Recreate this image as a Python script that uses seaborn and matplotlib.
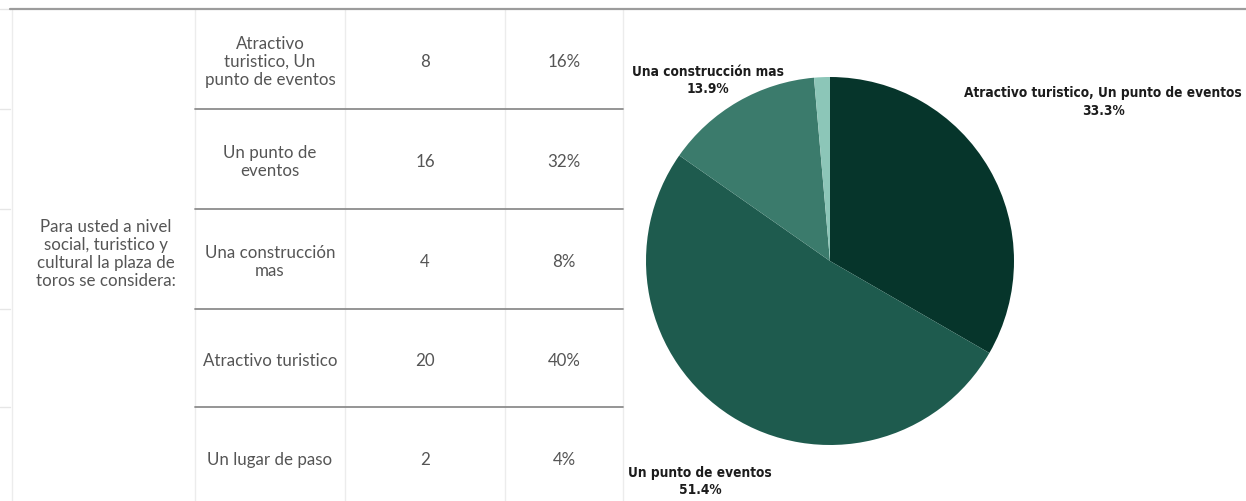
import numpy as np
import matplotlib
matplotlib.use("Agg")
import matplotlib.pyplot as plt
import seaborn as sns

# ---------------- data ----------------
question = "Para usted a nivel\nsocial, turistico y\ncultural la plaza de\ntoros se considera:"
categories = ["Atractivo\nturistico, Un\npunto de eventos",
              "Un punto de\neventos",
              "Una construcción\nmas",
              "Atractivo turistico",
              "Un lugar de paso"]
counts = [8, 16, 4, 20, 2]
percents = ["16%", "32%", "8%", "40%", "4%"]

pie_labels = ["Atractivo turistico, Un punto de eventos",
              "Un punto de eventos",
              "Una construcción mas",
              "Un lugar de paso"]
pie_values = [24, 37, 10, 1]

# ---------------- style ----------------
sns.set_theme(style="white")
plt.rcParams['font.family'] = ['Lato', 'DejaVu Sans']
pie_colors = sns.color_palette(["#06352b", "#1e5b4e", "#3b7b6c", "#8cc6b8"])
# label offsets (pixels) from the wedge's outer mid point; None = no label
label_offsets = [(114, -68), (-31, 64), (-30, -22), None]

W, H = 1246, 502
fig = plt.figure(figsize=(W / 100, H / 100), dpi=100)
fig.patch.set_facecolor("white")

# table axes in pixel coordinates
tax = fig.add_axes([0, 0, 1, 1])
tax.set_xlim(0, W)
tax.set_ylim(H, 0)
tax.axis("off")

row_tops = [10, 110, 210, 310, 408, 508]
col_x = [12, 195, 345, 505, 623]

for x in col_x:
    tax.plot([x, x], [10, H], color="#ececec", lw=1.0, zorder=1)
for y in [10, 110, 210, 310, 408]:
    tax.plot([0, 10], [y, y], color="#e6e6e6", lw=1.0, zorder=1)
tax.plot([10, W], [10, 10], color="#9c9c9c", lw=1.6, zorder=2)
for y in row_tops[1:5]:
    tax.plot([col_x[1], col_x[4]], [y, y], color="#8c8c8c", lw=1.3, zorder=2)

txt_kw = dict(color="#555555", fontsize=12.2, ha="center", va="center",
              linespacing=1.15, family=['Lato', 'DejaVu Sans'])
tax.text((col_x[0] + col_x[1]) / 2 + 2, 254, question, **txt_kw)
for i, (cat, n, p) in enumerate(zip(categories, counts, percents)):
    yc = (row_tops[i] + row_tops[i + 1]) / 2 + 2
    tax.text((col_x[1] + col_x[2]) / 2, yc, cat, **txt_kw)
    tax.text((col_x[2] + col_x[3]) / 2, yc, str(n), **txt_kw)
    tax.text((col_x[3] + col_x[4]) / 2, yc, p, **txt_kw)

# pie axes
cx, cy, r = 830, 262, 184
pax = fig.add_axes([(cx - r) / W, (H - cy - r) / H, 2 * r / W, 2 * r / H])
wedges, _ = pax.pie(pie_values, colors=pie_colors, startangle=90,
                    counterclock=False, radius=1.0,
                    wedgeprops=dict(linewidth=0))
pax.set_xlim(-1, 1)
pax.set_ylim(-1, 1)
pax.set_aspect("equal")
pax.axis("off")

total = sum(pie_values)
for w, lab, v, off in zip(wedges, pie_labels, pie_values, label_offsets):
    if off is None:
        continue
    ang = np.deg2rad((w.theta1 + w.theta2) / 2)
    pax.annotate(f"{lab}\n{100 * v / total:.1f}%",
                 xy=(np.cos(ang), np.sin(ang)),
                 xytext=(off[0], -off[1]), textcoords="offset pixels",
                 ha="center", va="center", fontsize=9.8, fontweight="bold",
                 fontstretch="condensed", color="#1c1c1c", linespacing=1.3,
                 annotation_clip=False,
                 family=['DejaVu Sans', 'Open Sans'])

fig.savefig("out.png", dpi=100, facecolor="white")
